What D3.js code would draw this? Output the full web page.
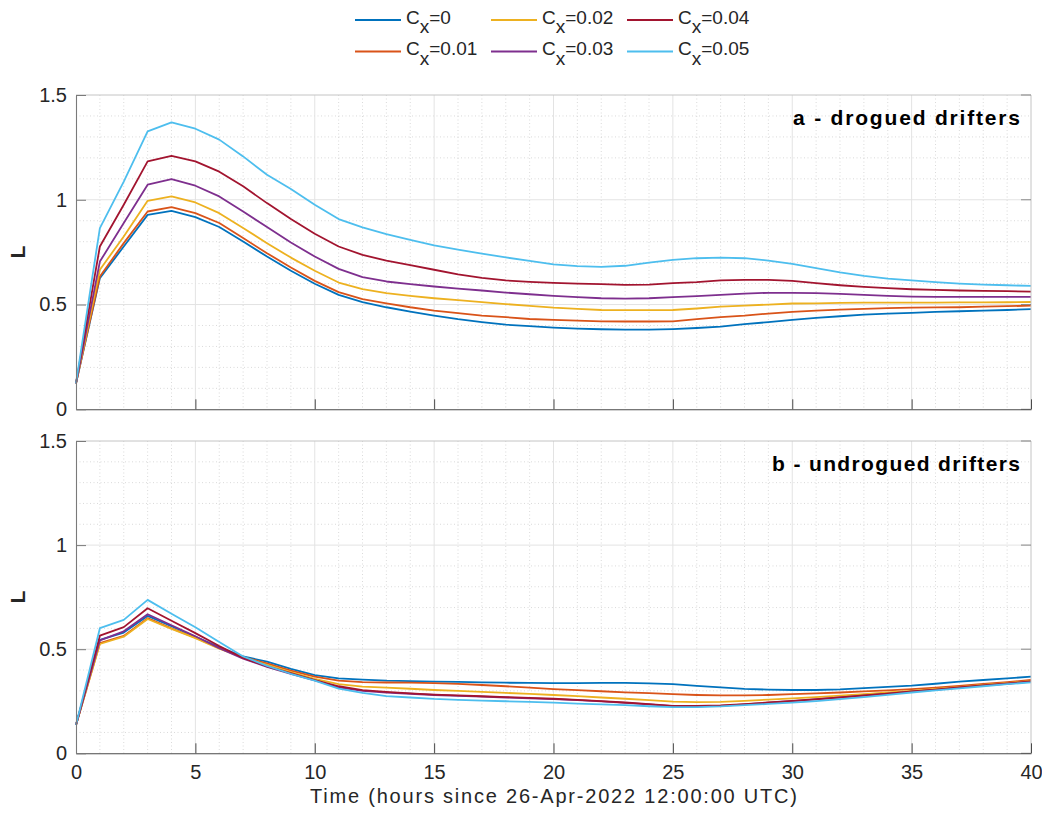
<!DOCTYPE html>
<html><head><meta charset="utf-8">
<script src="https://cdn.jsdelivr.net/npm/d3@7"></script>
<style>body{margin:0;background:#fff;} svg{display:block;font-family:"Liberation Sans",Arial,Helvetica,sans-serif;}</style>
</head><body><svg id="c" width="1042" height="818"></svg>
<script>
const hours = d3.range(0, 41);
const seriesNames = ["0", "0.01", "0.02", "0.03", "0.04", "0.05"];
const seriesColors = ["#0072BD", "#D95319", "#EDB120", "#7E2F8E", "#A2142F", "#4DBEEE"];
const panelTitles = ["a - drogued drifters", "b - undrogued drifters"];
const xTicks = [0, 5, 10, 15, 20, 25, 30, 35, 40];
const yTicks = [0, 0.5, 1, 1.5];
const xLabel = "Time (hours since 26-Apr-2022 12:00:00 UTC)";
const yLabel = "L";

// Panel a: drogued drifters
const drogued_0    = [0.124,0.626,0.777,0.928,0.947,0.917,0.870,0.801,0.729,0.661,0.599,0.546,0.511,0.487,0.466,0.447,0.430,0.416,0.404,0.397,0.390,0.385,0.382,0.380,0.380,0.383,0.388,0.395,0.406,0.416,0.427,0.436,0.444,0.452,0.457,0.460,0.465,0.468,0.471,0.474,0.478];
const drogued_001  = [0.124,0.634,0.793,0.944,0.965,0.936,0.889,0.817,0.745,0.677,0.613,0.559,0.526,0.506,0.487,0.471,0.459,0.447,0.440,0.431,0.427,0.423,0.420,0.419,0.419,0.420,0.430,0.440,0.447,0.457,0.465,0.471,0.476,0.479,0.483,0.485,0.486,0.487,0.490,0.492,0.495];
const drogued_002  = [0.124,0.666,0.825,0.995,1.016,0.987,0.936,0.865,0.793,0.724,0.661,0.605,0.573,0.554,0.541,0.530,0.521,0.511,0.502,0.494,0.485,0.479,0.474,0.473,0.473,0.474,0.481,0.490,0.495,0.500,0.505,0.506,0.508,0.509,0.509,0.509,0.509,0.510,0.510,0.511,0.512];
const drogued_003  = [0.124,0.705,0.889,1.072,1.099,1.067,1.016,0.944,0.870,0.796,0.729,0.670,0.631,0.610,0.597,0.586,0.576,0.567,0.557,0.549,0.541,0.535,0.530,0.528,0.530,0.535,0.540,0.546,0.552,0.556,0.556,0.554,0.551,0.546,0.541,0.538,0.537,0.537,0.537,0.537,0.537];
const drogued_004  = [0.124,0.777,0.976,1.183,1.210,1.183,1.134,1.064,0.984,0.908,0.838,0.777,0.737,0.710,0.688,0.666,0.644,0.627,0.615,0.608,0.603,0.600,0.597,0.594,0.595,0.602,0.607,0.615,0.618,0.618,0.613,0.602,0.592,0.584,0.578,0.573,0.570,0.567,0.565,0.564,0.562];
const drogued_005  = [0.124,0.865,1.087,1.326,1.369,1.339,1.287,1.207,1.119,1.051,0.976,0.908,0.868,0.836,0.808,0.782,0.762,0.743,0.725,0.708,0.692,0.683,0.680,0.685,0.700,0.713,0.721,0.724,0.721,0.710,0.694,0.674,0.653,0.637,0.624,0.615,0.607,0.600,0.595,0.592,0.589];

// Panel b: undrogued drifters
const undrogued_0   = [0.136,0.545,0.580,0.660,0.610,0.560,0.510,0.465,0.440,0.405,0.376,0.360,0.354,0.349,0.347,0.344,0.343,0.341,0.339,0.338,0.337,0.337,0.338,0.338,0.336,0.332,0.324,0.317,0.309,0.306,0.304,0.304,0.307,0.313,0.319,0.325,0.334,0.344,0.352,0.360,0.368];
const undrogued_001 = [0.136,0.529,0.564,0.649,0.600,0.555,0.505,0.462,0.432,0.397,0.368,0.349,0.342,0.340,0.339,0.337,0.333,0.328,0.322,0.315,0.308,0.303,0.298,0.293,0.289,0.284,0.280,0.278,0.278,0.280,0.284,0.288,0.292,0.297,0.302,0.308,0.315,0.324,0.333,0.342,0.352];
const undrogued_002 = [0.136,0.525,0.560,0.645,0.598,0.553,0.503,0.460,0.425,0.390,0.358,0.332,0.320,0.315,0.310,0.304,0.300,0.295,0.290,0.285,0.280,0.275,0.268,0.262,0.255,0.248,0.246,0.247,0.252,0.258,0.264,0.270,0.277,0.284,0.292,0.300,0.309,0.318,0.328,0.337,0.347];
const undrogued_003 = [0.136,0.542,0.586,0.668,0.615,0.562,0.505,0.455,0.415,0.382,0.350,0.317,0.300,0.291,0.286,0.280,0.276,0.272,0.268,0.264,0.260,0.255,0.249,0.242,0.235,0.226,0.226,0.228,0.235,0.243,0.251,0.259,0.268,0.277,0.286,0.296,0.305,0.315,0.325,0.334,0.344];
const undrogued_004 = [0.136,0.565,0.606,0.697,0.637,0.577,0.515,0.458,0.418,0.385,0.352,0.322,0.303,0.295,0.288,0.282,0.278,0.274,0.270,0.266,0.262,0.257,0.251,0.244,0.236,0.228,0.228,0.230,0.236,0.244,0.252,0.260,0.269,0.278,0.287,0.297,0.306,0.316,0.326,0.335,0.345];
const undrogued_005 = [0.136,0.601,0.641,0.737,0.670,0.605,0.535,0.465,0.420,0.382,0.349,0.311,0.290,0.275,0.268,0.261,0.257,0.253,0.250,0.247,0.243,0.239,0.235,0.231,0.226,0.222,0.222,0.225,0.231,0.237,0.243,0.251,0.260,0.270,0.281,0.292,0.302,0.312,0.322,0.332,0.341];

const panels = [
  {title: panelTitles[0], series: [drogued_0, drogued_001, drogued_002, drogued_003, drogued_004, drogued_005], top: 95, bottom: 409.3, xLabels: false, titleW: 227},
  {title: panelTitles[1], series: [undrogued_0, undrogued_001, undrogued_002, undrogued_003, undrogued_004, undrogued_005], top: 441, bottom: 753.3, xLabels: true, titleW: 248}
];

const svg = d3.select("#c");
const left = 76, right = 1031;
const x = d3.scaleLinear().domain([0, 40]).range([left, right]);
const fontSize = 20;

panels.forEach((p, pi) => {
  const y = d3.scaleLinear().domain([0, 1.5]).range([p.bottom, p.top]);
  const g = svg.append("g");
  // minor grid
  const minorX = d3.range(1, 40).filter(v => v % 5 !== 0);
  const minorY = d3.range(1, 15).map(v => v / 10).filter(v => Math.abs(v * 2 - Math.round(v * 2)) > 1e-6);
  g.selectAll(".mgx").data(minorX).enter().append("line")
    .attr("x1", d => x(d)).attr("x2", d => x(d)).attr("y1", p.top).attr("y2", p.bottom)
    .attr("stroke", "#d0d0d0").attr("stroke-width", 0.8).attr("stroke-dasharray", "1,2.5");
  g.selectAll(".mgy").data(minorY).enter().append("line")
    .attr("x1", left).attr("x2", right).attr("y1", d => y(d)).attr("y2", d => y(d))
    .attr("stroke", "#d0d0d0").attr("stroke-width", 0.8).attr("stroke-dasharray", "1,2.5");
  // major grid
  g.selectAll(".Mgx").data(xTicks.slice(1, -1)).enter().append("line")
    .attr("x1", d => x(d)).attr("x2", d => x(d)).attr("y1", p.top).attr("y2", p.bottom)
    .attr("stroke", "#e3e3e3").attr("stroke-width", 1);
  g.selectAll(".Mgy").data(yTicks.slice(1, -1)).enter().append("line")
    .attr("x1", left).attr("x2", right).attr("y1", d => y(d)).attr("y2", d => y(d))
    .attr("stroke", "#e3e3e3").attr("stroke-width", 1);

  // lines
  const line = d3.line().x((d, i) => x(hours[i])).y(d => y(d));
  p.series.forEach((s, si) => {
    g.append("path").datum(s).attr("d", line).attr("fill", "none")
      .attr("stroke", seriesColors[si]).attr("stroke-width", 1.8).attr("stroke-linejoin", "round");
  });

  // top/right box (light)
  g.append("line").attr("x1", left).attr("x2", right).attr("y1", p.top).attr("y2", p.top).attr("stroke", "#c4c4c4").attr("stroke-width", 1);
  g.append("line").attr("x1", right).attr("x2", right).attr("y1", p.top).attr("y2", p.bottom).attr("stroke", "#c4c4c4").attr("stroke-width", 1);
  // right ticks
  g.selectAll(".rt").data(yTicks).enter().append("line")
    .attr("x1", right).attr("x2", right - 10).attr("y1", d => y(d)).attr("y2", d => y(d))
    .attr("stroke", "#8a8a8a").attr("stroke-width", 1);

  // axes
  const xAxis = d3.axisBottom(x).tickValues(xTicks).tickSizeInner(-10).tickSizeOuter(0).tickPadding(12)
    .tickFormat(p.xLabels ? d3.format("d") : () => "");
  const xa = g.append("g").attr("transform", `translate(0,${p.bottom})`).call(xAxis);
  xa.select(".domain").attr("stroke", "#4a4a4a").attr("stroke-width", 1.1);
  xa.selectAll(".tick line").attr("stroke", "#4a4a4a");
  xa.selectAll("text").attr("font-size", fontSize).attr("fill", "#262626").attr("font-family", "Liberation Sans, Arial, sans-serif");

  const yAxis = d3.axisLeft(y).tickValues(yTicks).tickSizeInner(-10).tickSizeOuter(0).tickPadding(9)
    .tickFormat(d => d3.format("")(d));
  const ya = g.append("g").attr("transform", `translate(${left},0)`).call(yAxis);
  ya.select(".domain").attr("stroke", "#7a7a7a").attr("stroke-width", 1.1);
  ya.selectAll(".tick line").attr("stroke", "#7a7a7a");
  ya.selectAll("text").attr("font-size", fontSize).attr("fill", "#262626").attr("font-family", "Liberation Sans, Arial, sans-serif");

  // title
  g.append("text").attr("x", 1020).attr("y", p.top + 30).attr("text-anchor", "end")
    .attr("font-size", 21).attr("font-weight", "bold").attr("fill", "#000")
    .attr("textLength", p.titleW).attr("lengthAdjust", "spacing").text(p.title);
  // y label
  g.append("text").attr("transform", `translate(25,${(p.top + p.bottom) / 2}) rotate(-90)`)
    .attr("text-anchor", "middle").attr("font-size", 21).attr("font-weight", "bold").attr("fill", "#262626").text(yLabel);
});

// x label
svg.append("text").attr("x", (left + right) / 2).attr("y", 803).attr("text-anchor", "middle")
  .attr("font-size", 20).attr("fill", "#262626")
  .attr("textLength", 487).attr("lengthAdjust", "spacing").text(xLabel);

// legend
const legendCols = [355, 491, 627];
const legendRows = [20, 51.5];
seriesNames.forEach((name, i) => {
  const col = Math.floor(i / 2), row = i % 2;
  const lx = legendCols[col], ly = legendRows[row];
  const lg = svg.append("g");
  lg.append("line").attr("x1", lx).attr("x2", lx + 46).attr("y1", ly).attr("y2", ly)
    .attr("stroke", seriesColors[i]).attr("stroke-width", 1.9);
  const t = lg.append("text").attr("x", lx + 51).attr("y", ly + 3.5).attr("font-size", 19).attr("fill", "#262626");
  t.append("tspan").text("C");
  t.append("tspan").attr("dy", 9.5).text("x");
  t.append("tspan").attr("dy", -9.5).text("=" + name);
});
</script></body></html>
